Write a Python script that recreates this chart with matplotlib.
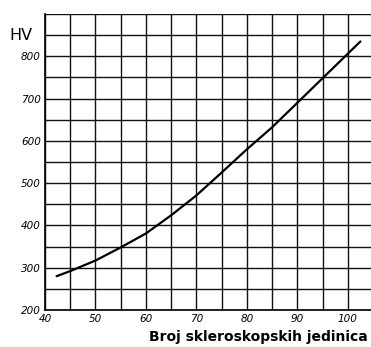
import matplotlib.pyplot as plt
import numpy as np

# skleroskop units vs Vickers hardness
shore = [42.3, 45, 50, 55, 60, 65, 70, 75, 80, 85, 90, 95, 100, 102.5]
hv = [280, 292, 317, 348, 381, 424, 471, 525, 580, 632, 690, 748, 806, 835]

x_ticks = [40, 50, 60, 70, 80, 90, 100]
y_ticks = [200, 300, 400, 500, 600, 700, 800]

fig = plt.figure(figsize=(3.71, 3.47), dpi=100)
ax = fig.add_axes([0.1213, 0.1066, 0.8787, 0.8531])

ax.plot(shore, hv, color='black', lw=1.6, solid_capstyle='round', zorder=3)

ax.set_xlim(40, 104.6)
ax.set_ylim(200, 900)

# dense grid: every 5 units on x, every 50 on y
ax.set_xticks(np.arange(40, 105, 5), minor=True)
ax.set_yticks(np.arange(200, 901, 50), minor=True)
ax.set_xticks(x_ticks)
ax.set_yticks(y_ticks)
ax.grid(which='both', color='#111111', lw=1.0)
ax.set_xticklabels([str(v) for v in x_ticks], fontstyle='italic', fontsize=7.5)
ax.set_yticklabels([str(v) for v in y_ticks], fontstyle='italic', fontsize=7.5)
ax.tick_params(which='both', length=0, pad=3)

for side in ['top', 'right']:
    ax.spines[side].set_visible(False)
ax.spines['left'].set_linewidth(1.2)
ax.spines['bottom'].set_linewidth(1.2)

fig.text(0.024, 0.885, 'HV', fontsize=11.5)
fig.text(0.992, 0.01, 'Broj skleroskopskih jedinica', fontsize=10,
         fontweight='bold', ha='right', va='bottom')

fig.savefig('out.png', dpi=100)
